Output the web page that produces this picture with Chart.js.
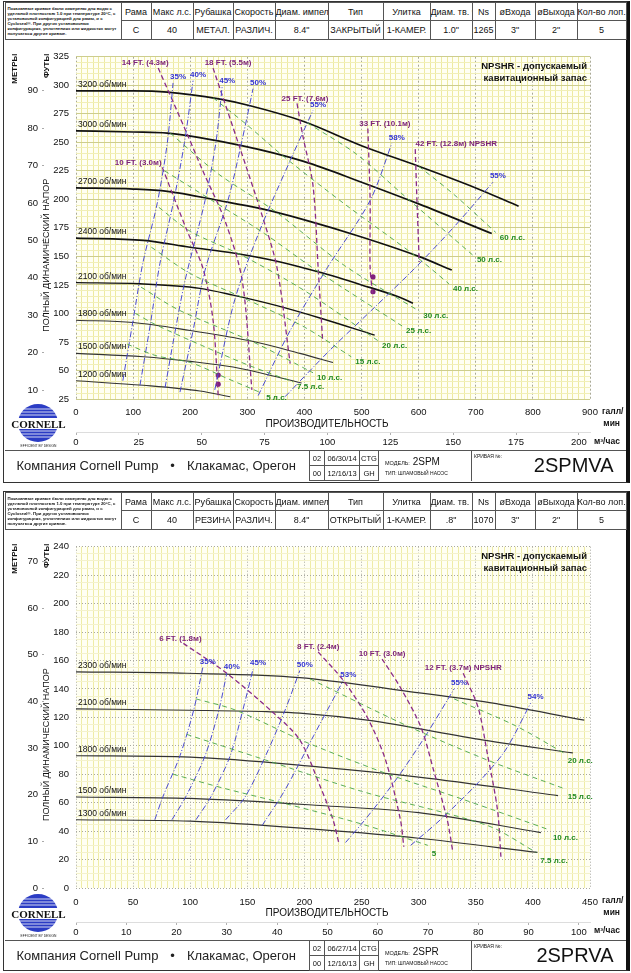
<!DOCTYPE html>
<html lang="ru">
<head>
<meta charset="utf-8">
<title>2SPMVA / 2SPRVA</title>
<script src="https://cdn.jsdelivr.net/npm/chart.js@4.4.0/dist/chart.umd.min.js"></script>
<style>
  body { margin: 0; width: 631px; height: 973px; background: #fff; position: relative; overflow: hidden;
         font-family: 'Liberation Sans', Arial, sans-serif; color: #111; }
  .frame { position: absolute; left: 3px; width: 627px; box-sizing: border-box;
           border: 1.5px solid #333; border-right: 4px solid #111; }
  table { position: absolute; border-collapse: collapse; table-layout: fixed; }
  .hdr { left: 4.5px; width: 621px; height: 37px; }
  .hdr td { border: 1px solid #555; text-align: center; padding: 0; white-space: nowrap; overflow: hidden;
            font-family: 'Liberation Sans Narrow', 'Liberation Sans', Arial, sans-serif; font-size: 9px; }
  .hdr td.note { font-family: 'Liberation Sans', Arial, sans-serif; font-size: 4.3px; line-height: 5.1px; font-weight: bold;
                 text-align: left; white-space: normal; padding: 1px 2px; }
  canvas { position: absolute; left: 0; }
  .ftr { left: 4.5px; width: 621px; height: 30px; }
  .ftr td { border: 1px solid #555; padding: 0; white-space: nowrap; overflow: hidden; }
  .ftr td.co { border-left: none; border-bottom: none; font-size: 13px; padding-left: 12px; color: #222; }
  .ftr td.co span { margin: 0 12px; }
  .ftr td.sm { font-size: 7.5px; text-align: center; }
  .ftr td.mdl { font-size: 10px; padding-left: 6px; vertical-align: middle; border-bottom: none; }
  .ftr td.mdl small { font-size: 5.5px; }
  .ftr td.mdl .tp { font-size: 5px; margin-top: 3px; }
  .ftr td.crv { position: relative; font-size: 20px; text-align: right; padding-right: 12px; border-right: none; border-bottom: none; }
  .ftr td.crv .cl { position: absolute; left: 2px; top: 2px; font-size: 5px; }
  .logo { position: absolute; left: 9px; }
</style>
</head>
<body>

<!-- ====== Верхняя кривая 2SPMVA ====== -->
<div class="frame" style="top:1px;height:482px"></div>
<table class="hdr" style="top:2px">
  <colgroup><col style="width:116px"><col style="width:30px"><col style="width:42px"><col style="width:40px"><col style="width:42px"><col style="width:53px"><col style="width:55px"><col style="width:47px"><col style="width:42px"><col style="width:23px"><col style="width:40px"><col style="width:42px"><col style="width:49px"></colgroup>
  <tr style="height:18px"><td rowspan="2" class="note">Показанные кривые были измерены для воды с удельной плотностью 1.0 при температуре 20°C, с установочной конфигурацией для рамы, и с Cycloseal®. При других установочных конфигурациях, уплотнениях или жидкостях могут получаться другие кривые.</td><td>Рама</td><td>Макс л.с.</td><td>Рубашка</td><td>Скорость</td><td>Диам. импел.</td><td>Тип</td><td>Улитка</td><td>Диам. тв. ч.</td><td>Ns</td><td>øВхода</td><td>øВыхода</td><td>Кол-во лоп.</td></tr>
  <tr style="height:19px"><td>C</td><td>40</td><td>МЕТАЛ.</td><td>РАЗЛИЧ.</td><td>8.4"</td><td>ЗАКРЫТЫЙ</td><td>1-КАМЕР.</td><td>1.0"</td><td>1265</td><td>3"</td><td>2"</td><td>5</td></tr>
</table>
<canvas id="chartTop" width="627" height="406" style="top:44px"></canvas>
<svg class="logo" style="top:401px" width="60" height="50" viewBox="0 0 60 50">
  <ellipse cx="29" cy="22" rx="20" ry="19" fill="#2b3cc4"/>
  <g stroke="#fff" stroke-width="0.8"><line x1="8" y1="8" x2="50" y2="8"/><line x1="6" y1="11" x2="52" y2="11"/><line x1="5" y1="14" x2="53" y2="14"/><line x1="5" y1="30" x2="53" y2="30"/><line x1="6" y1="33" x2="52" y2="33"/><line x1="8" y1="36" x2="50" y2="36"/></g>
  <rect x="0" y="17" width="60" height="11" fill="#fff"/>
  <text x="29.5" y="26.5" text-anchor="middle" font-family="Liberation Serif, DejaVu Serif, serif" font-weight="bold" font-size="11" fill="#111">CORNELL</text>
  <text x="29.5" y="46" text-anchor="middle" font-family="Liberation Sans, Arial" font-size="3.3" fill="#222">EFFICIENT BY DESIGN</text>
</svg>
<table class="ftr" style="top:450px">
  <colgroup><col style="width:305px"><col style="width:15px"><col style="width:35px"><col style="width:19px"><col style="width:93px"><col style="width:154px"></colgroup>
  <tr style="height:15px"><td rowspan="2" class="co">Компания Cornell Pump<span>•</span>Клакамас, Орегон</td><td class="sm">02</td><td class="sm">06/30/14</td><td class="sm">CTG</td><td rowspan="2" class="mdl"><div><small>МОДЕЛЬ:</small> 2SPM</div><div class="tp">ТИП: ШЛАМОВЫЙ НАСОС</div></td><td rowspan="2" class="crv"><span class="cl">КРИВАЯ №:</span>2SPMVA</td></tr>
  <tr style="height:15px"><td class="sm">00</td><td class="sm">12/16/13</td><td class="sm">GH</td></tr>
</table>

<!-- ====== Нижняя кривая 2SPRVA ====== -->
<div class="frame" style="top:491px;height:480px"></div>
<table class="hdr" style="top:492px">
  <colgroup><col style="width:116px"><col style="width:30px"><col style="width:42px"><col style="width:40px"><col style="width:42px"><col style="width:53px"><col style="width:55px"><col style="width:47px"><col style="width:42px"><col style="width:23px"><col style="width:40px"><col style="width:42px"><col style="width:49px"></colgroup>
  <tr style="height:18px"><td rowspan="2" class="note">Показанные кривые были измерены для воды с удельной плотностью 1.0 при температуре 20°C, с установочной конфигурацией для рамы, и с Cycloseal®. При других установочных конфигурациях, уплотнениях или жидкостях могут получаться другие кривые.</td><td>Рама</td><td>Макс л.с.</td><td>Рубашка</td><td>Скорость</td><td>Диам. импел.</td><td>Тип</td><td>Улитка</td><td>Диам. тв. ч.</td><td>Ns</td><td>øВхода</td><td>øВыхода</td><td>Кол-во лоп.</td></tr>
  <tr style="height:19px"><td>C</td><td>40</td><td>РЕЗИНА</td><td>РАЗЛИЧ.</td><td>8.4"</td><td>ОТКРЫТЫЙ</td><td>1-КАМЕР.</td><td>.8"</td><td>1070</td><td>3"</td><td>2"</td><td>5</td></tr>
</table>
<canvas id="chartBottom" width="627" height="406" style="top:534px"></canvas>
<svg class="logo" style="top:891px" width="60" height="50" viewBox="0 0 60 50">
  <ellipse cx="29" cy="22" rx="20" ry="19" fill="#2b3cc4"/>
  <g stroke="#fff" stroke-width="0.8"><line x1="8" y1="8" x2="50" y2="8"/><line x1="6" y1="11" x2="52" y2="11"/><line x1="5" y1="14" x2="53" y2="14"/><line x1="5" y1="30" x2="53" y2="30"/><line x1="6" y1="33" x2="52" y2="33"/><line x1="8" y1="36" x2="50" y2="36"/></g>
  <rect x="0" y="17" width="60" height="11" fill="#fff"/>
  <text x="29.5" y="26.5" text-anchor="middle" font-family="Liberation Serif, DejaVu Serif, serif" font-weight="bold" font-size="11" fill="#111">CORNELL</text>
  <text x="29.5" y="46" text-anchor="middle" font-family="Liberation Sans, Arial" font-size="3.3" fill="#222">EFFICIENT BY DESIGN</text>
</svg>
<table class="ftr" style="top:940px">
  <colgroup><col style="width:305px"><col style="width:15px"><col style="width:35px"><col style="width:19px"><col style="width:93px"><col style="width:154px"></colgroup>
  <tr style="height:15px"><td rowspan="2" class="co">Компания Cornell Pump<span>•</span>Клакамас, Орегон</td><td class="sm">02</td><td class="sm">06/27/14</td><td class="sm">CTG</td><td rowspan="2" class="mdl"><div><small>МОДЕЛЬ:</small> 2SPR</div><div class="tp">ТИП: ШЛАМОВЫЙ НАСОС</div></td><td rowspan="2" class="crv"><span class="cl">КРИВАЯ №:</span>2SPRVA</td></tr>
  <tr style="height:15px"><td class="sm">00</td><td class="sm">12/16/13</td><td class="sm">GH</td></tr>
</table>

<script>
// Пересчёт единиц
const FT_PER_M = 3.28084;
const GPM_PER_M3H = 4.40287;
const FONT = "'Liberation Sans', Arial, sans-serif";

// ---------- 2SPMVA: подача (галл/мин), напор (футы) ----------
const topFlowMax = 900;
const topHeadMin = 25;
const topHeadMax = 325;
const topM3Ticks = [0, 25, 50, 75, 100, 125, 150, 175, 200];
const topMetreTicks = [10, 20, 30, 40, 50, 60, 70, 80, 90];

const topSpeedNames = ['3200 об/мин', '3000 об/мин', '2700 об/мин', '2400 об/мин', '2100 об/мин', '1800 об/мин', '1500 об/мин', '1200 об/мин'];
const topSpeedCurves = [
  [[0, 295], [100, 295], [160, 294], [250, 288], [305, 282], [400, 268], [500, 247], [600, 229], [700, 210], [775, 194]],
  [[0, 260], [100, 259], [160, 258], [290, 247], [400, 233], [500, 215], [600, 196], [728, 170]],
  [[0, 210], [100, 209], [160, 207], [250, 199], [322, 192], [400, 182], [500, 167], [600, 150], [658, 138]],
  [[0, 166], [118, 164], [200, 158], [275, 153], [350, 146], [427, 136], [500, 125], [562, 115], [590, 109]],
  [[0, 127], [112, 126], [217, 122], [275, 116], [350, 107], [427, 96], [523, 81]],
  [[0, 94], [100, 92], [200, 85], [305, 76], [392, 65], [450, 57]],
  [[0, 65], [118, 62], [200, 58], [275, 53], [363, 43], [395, 39]],
  [[0, 41], [118, 37], [217, 32], [270, 27]]
];

const topEffNames = ['35%', '40%', '45%', '50%', '55%', '58%', '55%'];
const topEffCurves = [
  [[82, 41], [100, 94], [117, 144], [142, 196], [160, 250], [170, 302]],
  [[112, 37], [130, 90], [147, 144], [170, 196], [190, 250], [205, 304]],
  [[156, 35], [172, 80], [191, 129], [226, 199], [245, 250], [256, 299]],
  [[182, 31], [205, 85], [226, 138], [266, 199], [290, 250], [310, 297]],
  [[243, 33], [278, 112], [322, 173], [375, 234], [415, 278]],
  [[319, 28], [375, 85], [440, 140], [515, 199], [553, 249]],
  [[366, 27], [445, 68], [520, 104], [594, 140], [664, 177], [730, 215]]
];

const topNpshNames = ['10 FT. (3.0м)', '14 FT. (4.3м)', '18 FT. (5.5м)', '25 FT. (7.6м)', '33 FT. (10.1м)', '42 FT. (12.8м) NPSHR'];
const topNpshCurves = [
  [[151, 228], [194, 173], [222, 140], [240, 94], [249, 28]],
  [[144, 315], [194, 258], [222, 225], [261, 181], [291, 129], [308, 33]],
  [[240, 315], [287, 245], [327, 184], [352, 140], [375, 56]],
  [[387, 284], [397, 256], [415, 212], [424, 140], [432, 75]],
  [[511, 262], [515, 199], [515, 140], [520, 114]],
  [[594, 244], [597, 199], [601, 145]]
];
const topNpshDots = [[249, 46], [249, 38], [520, 132], [520, 119]];

const topHpNames = ['5 л.с.', '7.5 л.с.', '10 л.с.', '15 л.с.', '20 л.с.', '25 л.с.', '30 л.с.', '40 л.с.', '50 л.с.', '60 л.с.'];
const topHpCurves = [
  [[90, 73], [140, 63], [200, 57], [265, 43], [326, 30]],
  [[104, 100], [140, 90], [220, 72], [300, 55], [380, 40]],
  [[114, 123], [180, 103], [310, 75], [415, 48]],
  [[132, 158], [200, 135], [300, 112], [400, 88], [482, 62]],
  [[145, 193], [200, 172], [290, 151], [400, 120], [529, 76]],
  [[155, 225], [235, 200], [330, 170], [420, 138], [571, 89]],
  [[165, 258], [250, 222], [350, 189], [470, 142], [601, 102]],
  [[240, 289], [300, 265], [365, 237], [470, 196], [590, 152], [653, 126]],
  [[405, 267], [490, 240], [575, 203], [695, 151]],
  [[600, 229], [660, 205], [735, 171]]
];

// ---------- 2SPRVA ----------
const botFlowMax = 450;
const botHeadMin = 0;
const botHeadMax = 240;
const botM3Ticks = [0, 10, 20, 30, 40, 50, 60, 70, 80, 90, 100];
const botMetreTicks = [0, 10, 20, 30, 40, 50, 60, 70];

const botSpeedNames = ['2300 об/мин', '2100 об/мин', '1800 об/мин', '1500 об/мин', '1300 об/мин'];
const botSpeedCurves = [
  [[0, 152], [97, 151], [196, 148], [284, 139], [357, 131], [445, 118]],
  [[0, 126], [100, 125], [167, 124], [196, 123], [255, 118], [357, 104], [435, 95]],
  [[0, 93], [100, 92], [214, 85], [300, 78], [422, 65]],
  [[0, 64], [100, 63], [214, 58], [300, 53], [407, 39]],
  [[0, 48], [100, 47], [214, 41], [300, 35], [404, 25]]
];

const botEffNames = ['35%', '40%', '45%', '50%', '53%', '55%', '54%'];
const botEffCurves = [
  [[69, 48], [76, 64], [91, 93], [103, 125], [111, 155]],
  [[84, 48], [96, 64], [113, 93], [125, 125], [132, 151]],
  [[105, 48], [118, 64], [135, 93], [146, 125], [155, 154]],
  [[131, 48], [148, 64], [166, 93], [183, 125], [196, 153]],
  [[163, 44], [183, 69], [208, 107], [234, 146]],
  [[236, 32], [253, 48], [280, 76], [306, 107], [331, 140]],
  [[293, 30], [319, 48], [352, 74], [376, 97], [398, 130]]
];

const botNpshNames = ['6 FT. (1.8м)', '8 FT. (2.4м)', '10 FT. (3.0м)', '12 FT. (3.7м) NPSHR'];
const botNpshCurves = [
  [[94, 172], [132, 151], [173, 123], [196, 104], [214, 71], [225, 48], [230, 32]],
  [[212, 166], [234, 146], [255, 120], [271, 90], [284, 48], [287, 29]],
  [[268, 161], [284, 141], [302, 113], [313, 83], [325, 48], [330, 25]],
  [[339, 151], [352, 127], [360, 95], [369, 55], [372, 22]]
];

const botHpNames = ['5', '7.5 л.с.', '10 л.с.', '15 л.с.', '20 л.с.'];
const botHpCurves = [
  [[85, 80], [130, 70], [180, 60], [250, 45], [308, 30]],
  [[97, 108], [166, 90], [250, 68], [360, 44], [403, 25]],
  [[105, 133], [140, 125], [200, 103], [270, 81], [340, 62], [414, 41]],
  [[205, 147], [290, 114], [360, 90], [427, 70]],
  [[331, 133], [385, 114], [427, 95]]
];

// ---------- построение ----------
function range(a, b, step) {
  const out = [];
  for (let v = a; v <= b + 1e-9; v += step) out.push(Math.round(v * 1000) / 1000);
  return out;
}
function isMult(v, m) {
  return Math.abs(v / m - Math.round(v / m)) < 1e-6;
}
function vText(ctx, text, x, y, align) {
  ctx.save();
  ctx.translate(x, y);
  ctx.rotate(-Math.PI / 2);
  ctx.textAlign = align;
  ctx.textBaseline = 'middle';
  ctx.fillText(text, 0, 0);
  ctx.restore();
}

const decor = {
  id: 'decor',
  beforeDraw(chart) {
    const { ctx, chartArea: a } = chart;
    ctx.save();
    ctx.fillStyle = '#fffff3';
    ctx.fillRect(a.left, a.top, a.width, a.height);
    ctx.restore();
  },
  afterDraw(chart) {
    const { ctx, chartArea: a } = chart;
    // подписи кривых
    chart.data.datasets.forEach((ds, i) => {
      if (!ds.lbl) return;
      const pts = chart.getDatasetMeta(i).data;
      const p = ds.lbl.at === 'start' ? pts[0] : pts[pts.length - 1];
      ctx.save();
      ctx.font = ds.lbl.font;
      ctx.fillStyle = ds.lbl.color;
      ctx.textAlign = ds.lbl.align;
      ctx.textBaseline = ds.lbl.base;
      ctx.fillText(ds.lbl.text, p.x + ds.lbl.dx, p.y + ds.lbl.dy);
      ctx.restore();
    });
    // заголовки осей
    ctx.save();
    ctx.fillStyle = '#111';
    ctx.font = 'bold 8px ' + FONT;
    vText(ctx, 'МЕТРЫ', 15, a.top - 3, 'right');
    vText(ctx, 'ФУТЫ', 47, a.top - 3, 'right');
    ctx.font = '9px ' + FONT;
    vText(ctx, 'ПОЛНЫЙ ДИНАМИЧЕСКИЙ НАПОР', 47, a.top + a.height * 0.58, 'center');
    ctx.font = '10px ' + FONT;
    ctx.textAlign = 'center';
    ctx.textBaseline = 'middle';
    ctx.fillText('ПРОИЗВОДИТЕЛЬНОСТЬ', (a.left + a.right) / 2 - 6, a.bottom + 25);
    ctx.font = 'bold 8.5px ' + FONT;
    ctx.textAlign = 'left';
    ctx.fillText('галл/', a.right + 12, a.bottom + 13);
    ctx.textAlign = 'right';
    ctx.fillText('мин', a.right + 30, a.bottom + 25);
    ctx.textAlign = 'left';
    ctx.fillText('м³/час', a.right + 4, a.bottom + 43);
    ctx.font = 'bold 9.5px ' + FONT;
    ctx.textAlign = 'right';
    ctx.fillText('NPSHR - допускаемый', a.right - 3, a.top + 10);
    ctx.fillText('кавитационный запас', a.right - 3, a.top + 22);
    ctx.restore();
  }
};

function buildChart(view) {
  const s = view.series;
  const datasets = [];
  const line = (data, color, width, dash, lbl) => ({
    data: data, showLine: true, borderColor: color, borderWidth: width, borderDash: dash,
    pointRadius: 0, pointHoverRadius: 0, tension: 0.3, fill: false, lbl: lbl
  });

  s.hpCurves.forEach((d, i) => datasets.push(line(d, '#46a446', 0.9, [5, 4], {
    text: s.hpNames[i], at: 'end', dx: 4, dy: view.hpDy, align: 'left', base: 'middle',
    color: '#228a22', font: 'bold 8px ' + FONT
  })));
  s.effCurves.forEach((d, i) => datasets.push(line(d, '#4b4bd2', 1, [6, 2, 1, 2], {
    text: s.effNames[i], at: 'end', dx: 5, dy: -2, align: 'center', base: 'bottom',
    color: '#3434d4', font: 'bold 8px ' + FONT
  })));
  s.npshCurves.forEach((d, i) => datasets.push(line(d, '#8b2c88', 1.3, [5, 3], {
    text: s.npshNames[i], at: 'start', dx: view.npshShift[i], dy: -1, align: 'center', base: 'bottom',
    color: '#7d2379', font: 'bold 8px ' + FONT
  })));
  s.speedCurves.forEach((d, i) => {
    const ds = line(d, i < view.darkCount ? '#111' : '#333', view.speedWidths[i], [], {
      text: s.speedNames[i], at: 'start', dx: 2, dy: -2, align: 'left', base: 'bottom',
      color: '#111', font: '8.5px ' + FONT
    });
    ds.cubicInterpolationMode = 'monotone';
    datasets.push(ds);
  });
  if (s.dots) {
    datasets.push({ data: s.dots, showLine: false, pointRadius: 2.6, pointBackgroundColor: '#80207c',
                    pointBorderWidth: 0 });
  }

  const tickFont = { family: FONT, size: 9.5 };
  return new Chart(document.getElementById(view.canvasId), {
    type: 'scatter',
    data: { datasets: datasets },
    options: {
      responsive: false,
      animation: false,
      devicePixelRatio: 1,
      layout: { padding: { left: 0, right: 37, top: 12, bottom: 0 } },
      plugins: { legend: { display: false }, tooltip: { enabled: false } },
      scales: {
        x: {
          type: 'linear', position: 'bottom', weight: 0, min: 0, max: view.flowMax,
          afterBuildTicks: sc => { sc.ticks = range(0, view.flowMax, view.flowStep).map(v => ({ value: v })); },
          ticks: { autoSkip: false, maxRotation: 0, padding: view.xPad, color: '#111', font: tickFont,
                   callback: v => isMult(v, view.flowLabelStep) ? v : '' },
          grid: { drawTicks: false, lineWidth: 1,
                  color: c => (c.tick && isMult(c.tick.value, view.flowLabelStep)) ? view.xMajor.color : view.minorX },
          border: { display: false,
                    dash: c => (c.tick && isMult(c.tick.value, view.flowLabelStep)) ? view.xMajor.dash : [] },
          afterFit: sc => { sc.height = view.xHeight; }
        },
        x2: {
          type: 'linear', position: 'bottom', weight: 1, min: 0, max: view.flowMax / GPM_PER_M3H,
          afterBuildTicks: sc => { sc.ticks = view.m3Ticks.map(v => ({ value: v })); },
          ticks: { autoSkip: false, maxRotation: 0, padding: 2, color: '#111', font: tickFont },
          grid: { drawOnChartArea: false, drawTicks: true, tickLength: 3, color: '#b0b0b0' },
          border: { display: true, color: '#dddddd', width: 1 },
          afterFit: sc => { sc.height = 18; }
        },
        y: {
          type: 'linear', position: 'left', weight: 0, min: view.headMin, max: view.headMax,
          afterBuildTicks: sc => { sc.ticks = range(view.headMin, view.headMax, view.headStep).map(v => ({ value: v })); },
          ticks: { autoSkip: false, padding: 7, color: '#111', font: tickFont,
                   callback: v => isMult(v, view.headLabelStep) ? v : '' },
          grid: { drawTicks: false, lineWidth: 1,
                  color: c => (c.tick && isMult(c.tick.value, view.headLabelStep)) ? view.yMajor.color : view.minorY },
          border: { display: false,
                    dash: c => (c.tick && isMult(c.tick.value, view.headLabelStep)) ? view.yMajor.dash : [] },
          afterFit: sc => { sc.width = 32; }
        },
        y2: {
          type: 'linear', position: 'left', weight: 1,
          min: view.headMin / FT_PER_M, max: view.headMax / FT_PER_M,
          afterBuildTicks: sc => { sc.ticks = view.metreTicks.map(v => ({ value: v })); },
          ticks: { autoSkip: false, padding: 4, color: '#111', font: tickFont },
          grid: { drawOnChartArea: false, drawTicks: true, tickLength: 2, color: '#aaa' },
          border: { display: false },
          afterFit: sc => { sc.width = 44; }
        }
      }
    },
    plugins: [decor]
  });
}

buildChart({
  canvasId: 'chartTop',
  flowMax: topFlowMax, headMin: topHeadMin, headMax: topHeadMax,
  flowStep: 10, flowLabelStep: 100, headStep: 5, headLabelStep: 25,
  m3Ticks: topM3Ticks, metreTicks: topMetreTicks,
  xMajor: { color: '#a9a995', dash: [2, 2] }, yMajor: { color: '#cdcd8e', dash: [] },
  minorX: '#eeeaa0', minorY: '#f1efb8',
  xHeight: 33, xPad: 8, hpDy: 5,
  darkCount: 5,
  speedWidths: [1.7, 1.7, 1.7, 1.6, 1.4, 1.1, 1.1, 1.1],
  npshShift: [-24, -13, 15, 8, 17, 41],
  series: {
    speedNames: topSpeedNames, speedCurves: topSpeedCurves,
    effNames: topEffNames, effCurves: topEffCurves,
    npshNames: topNpshNames, npshCurves: topNpshCurves, dots: topNpshDots,
    hpNames: topHpNames, hpCurves: topHpCurves
  }
});

buildChart({
  canvasId: 'chartBottom',
  flowMax: botFlowMax, headMin: botHeadMin, headMax: botHeadMax,
  flowStep: 5, flowLabelStep: 50, headStep: 5, headLabelStep: 20,
  m3Ticks: botM3Ticks, metreTicks: botMetreTicks,
  xMajor: { color: '#a9a9a0', dash: [1, 2] }, yMajor: { color: '#a9a9a0', dash: [1, 2] },
  minorX: '#efeca6', minorY: '#f4f2cc',
  xHeight: 34, xPad: 9, hpDy: 8,
  darkCount: 0,
  speedWidths: [1.2, 1.2, 1.2, 1.2, 1.2],
  npshShift: [-3, 0, 0, 0],
  series: {
    speedNames: botSpeedNames, speedCurves: botSpeedCurves,
    effNames: botEffNames, effCurves: botEffCurves,
    npshNames: botNpshNames, npshCurves: botNpshCurves, dots: null,
    hpNames: botHpNames, hpCurves: botHpCurves
  }
});
</script>
</body>
</html>
